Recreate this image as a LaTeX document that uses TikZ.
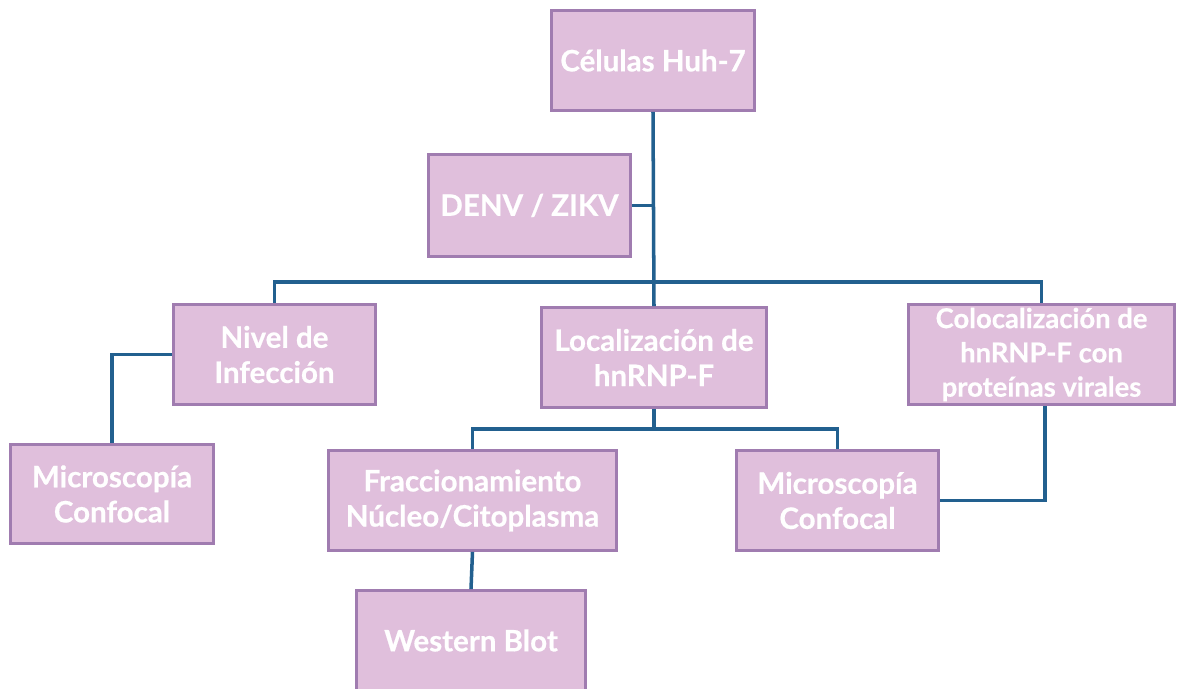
\documentclass[tikz,border=0pt]{standalone}
\usepackage{fontspec}
\setmainfont{Lato}[BoldFeatures={FakeBold=0.6}]
\usepackage{tikz}
\usetikzlibrary{positioning}
\definecolor{boxfill}{RGB}{224,191,220}
\definecolor{boxline}{RGB}{160,124,176}
\definecolor{linkblue}{RGB}{34,96,143}
\tikzset{>=latex}
\tikzset{
  caja/.style={draw=boxline, fill=boxfill, line width=1.6pt, align=center,
    text=white, font=\fontsize{16.8}{20}\selectfont\bfseries, inner sep=2pt},
  enlace/.style={draw=linkblue, line width=2pt}
}

\begin{document}
\begin{tikzpicture}[x=0.02cm, y=-0.02cm]
  \useasboundingbox (0,0) rectangle (1178,689);
  \node[caja, minimum width=4.06cm, minimum height=2.0cm] (huh) at (653,60.5) {Células Huh-7};
  \node[caja, minimum width=4.04cm, minimum height=2.04cm] (virus) at (529.5,205.5) {DENV / ZIKV};
  \node[caja, minimum width=4.04cm, minimum height=2.0cm] (nivel) at (274.5,354.5) {Nivel de\\Infección};
  \node[caja, minimum width=4.5cm, minimum height=2.0cm] (local) at (654,357.5) {Localización de\\hnRNP-F};
  \node[caja, minimum width=5.32cm, minimum height=2.0cm,
    font=\fontsize{15.6}{19.5}\selectfont\bfseries] (coloc) at (1041.5,354.5) {Colocalización de\\hnRNP-F con\\proteínas virales};
  \node[caja, minimum width=4.06cm, minimum height=1.98cm] (micA) at (112,494) {Microscopía\\Confocal};
  \node[caja, minimum width=5.76cm, minimum height=2.0cm] (fracc) at (472.5,500.5) {Fraccionamiento\\Núcleo/Citoplasma};
  \node[caja, minimum width=4.04cm, minimum height=2.0cm] (micB) at (837.5,500.5) {Microscopía\\Confocal};
  \node[caja, minimum width=4.58cm, minimum height=2.0cm] (wblot) at (471,640.5) {Western Blot};

  \coordinate (busA) at (653,282);
  \coordinate (busB) at (654,429);
  \draw[enlace] (huh.south) -- (local.north);
  \draw[enlace] (virus.east) -- (virus.east -| huh.south);
  \draw[enlace] (nivel.north) |- (busA) -| (coloc.north);
  \draw[enlace] (nivel.west) -| (micA.north);
  \draw[enlace] (local.south) -- (busB);
  \draw[enlace] (fracc.north) |- (busB) -| (micB.north);
  \draw[enlace] ([xshift=0.07cm]coloc.south) |- (micB.east);
  \draw[enlace] (fracc.south) -- (wblot.north);
\end{tikzpicture}
\end{document}
